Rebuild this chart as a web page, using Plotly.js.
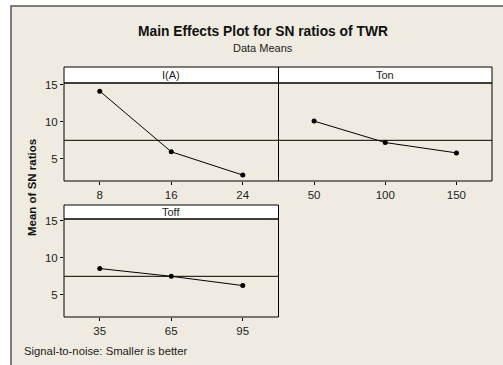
<!DOCTYPE html>
<html>
<head>
<meta charset="utf-8">
<script src="https://cdn.plot.ly/plotly-3.0.1.min.js"></script>
<style>html,body{margin:0;padding:0;background:#fff;}#chart{width:503px;height:365px;}</style>
</head>
<body>
<div id="chart"></div>
<script>
// Data
const factors = ["I(A)", "Ton", "Toff"];
const levelsIA = ["8", "16", "24"];
const levelsTon = ["50", "100", "150"];
const levelsToff = ["35", "65", "95"];
const snIA = [14.15, 5.95, 2.8];
const snTon = [10.1, 7.2, 5.8];
const snToff = [8.55, 7.5, 6.25];
const grandMean = 7.5;
const yTicks = [5, 10, 15];

const W = 503, H = 365;
const px = v => v / W;
const py = v => (H - v) / H;
const font = "Liberation Sans, Arial, sans-serif";

function trace(x, y, xa, ya) {
  return {x: x, y: y, xaxis: xa, yaxis: ya, type: "scatter", mode: "lines+markers",
    line: {color: "#000", width: 1}, marker: {color: "#000", size: 5}, hoverinfo: "x+y", showlegend: false};
}
const data = [
  trace(levelsIA, snIA, "x", "y"),
  trace(levelsTon, snTon, "x2", "y2"),
  trace(levelsToff, snToff, "x3", "y3")
];

function xa(dom, anchor) {
  return {domain: dom, anchor: anchor, type: "category", range: [-0.5, 2.5], showgrid: false, zeroline: false,
    showline: false, ticks: "outside", ticklen: 3, tickcolor: "#000",
    tickfont: {family: font, size: 11.5, color: "#222"}, fixedrange: true};
}
function ya(dom, anchor, labels) {
  return {domain: dom, anchor: anchor, range: [2, 15.25], tickvals: yTicks, showgrid: false, zeroline: false,
    showline: false, ticks: labels ? "outside" : "", ticklen: 3, tickcolor: "#000",
    showticklabels: labels, tickfont: {family: font, size: 11.5, color: "#222"}, fixedrange: true};
}
const top1 = [py(181), py(83)], bot1 = [py(317), py(219)];
const colL = [px(64), px(278.5)], colR = [px(278.5), px(492)];

const shapes = [
  {type: "rect", xref: "paper", yref: "paper", x0: px(11), x1: 1.02, y0: -0.02, y1: py(6),
   fillcolor: "#EFEBE1", line: {color: "#555", width: 1.5}, layer: "below"},
  // strips
  {type: "rect", xref: "paper", yref: "paper", x0: colL[0], x1: colL[1], y0: py(83), y1: py(67), fillcolor: "#fff", line: {color: "#000", width: 1}},
  {type: "rect", xref: "paper", yref: "paper", x0: colR[0], x1: colR[1], y0: py(83), y1: py(67), fillcolor: "#fff", line: {color: "#000", width: 1}},
  {type: "rect", xref: "paper", yref: "paper", x0: colL[0], x1: colL[1], y0: py(219), y1: py(205), fillcolor: "#fff", line: {color: "#000", width: 1}}
];
[["x", "y"], ["x2", "y2"], ["x3", "y3"]].forEach(([a, b]) => {
  shapes.push({type: "rect", xref: a + " domain", yref: b + " domain", x0: 0, x1: 1, y0: 0, y1: 1, line: {color: "#000", width: 1}});
  shapes.push({type: "line", xref: a + " domain", yref: b, x0: 0, x1: 1, y0: grandMean, y1: grandMean, line: {color: "#000", width: 1}});
});

function ann(text, x, y, size, extra) {
  return Object.assign({text: text, xref: "paper", yref: "paper", x: x, y: y, xanchor: "center", yanchor: "middle",
    showarrow: false, font: {family: font, size: size, color: "#222"}}, extra || {});
}
const annotations = [
  ann("<b>Main Effects Plot for SN ratios of TWR</b>", px(262.5), py(32), 13.8, {font: {family: font, size: 13.8, color: "#111"}}),
  ann("Data Means", px(263), py(48), 11),
  ann(factors[0], (colL[0] + colL[1]) / 2, py(75), 11),
  ann(factors[1], (colR[0] + colR[1]) / 2, py(75), 11),
  ann(factors[2], (colL[0] + colL[1]) / 2, py(212), 11),
  ann("<b>Mean of SN ratios</b>", px(32), py(187), 11.5, {textangle: -90, font: {family: font, size: 11.5, color: "#111"}}),
  ann("Signal-to-noise: Smaller is better", px(22), py(351), 11.3, {xanchor: "left"})
];

const layout = {
  width: W, height: H, margin: {l: 0, r: 0, t: 0, b: 0},
  paper_bgcolor: "#fff", plot_bgcolor: "#fff", showlegend: false,
  xaxis: xa(colL, "y"), yaxis: ya(top1, "x", true),
  xaxis2: xa(colR, "y2"), yaxis2: ya(top1, "x2", false),
  xaxis3: xa(colL, "y3"), yaxis3: ya(bot1, "x3", true),
  shapes: shapes, annotations: annotations
};
Plotly.newPlot("chart", data, layout, {displayModeBar: false, staticPlot: true});
</script>
</body>
</html>
